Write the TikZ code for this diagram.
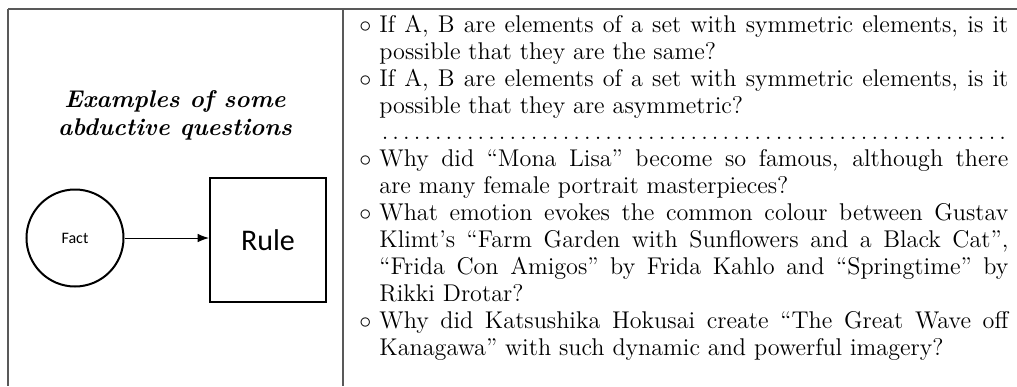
\documentclass[tikz,border=0pt]{standalone}
\usepackage{fontspec}
\newfontfamily\calibri{Carlito}
\usetikzlibrary{arrows.meta,positioning}
\tikzset{
    grid/.style={draw=black!65,line width=0.7pt},
    factdot/.style={circle,draw,line width=1pt,minimum size=48.5pt,inner sep=0pt,font=\calibri\fontsize{8}{9}\selectfont},
    rulebox/.style={draw,line width=1pt,minimum width=58pt,minimum height=62pt,inner sep=0pt,font=\calibri\fontsize{15}{17}\selectfont},
    arrow/.style={-{Latex[length=2mm]},line width=0.5pt}
}
\newlength{\qhang}
\setlength{\qhang}{10pt}
\newcommand{\qitem}[1]{\par\hangindent=\qhang\hangafter=1\noindent\makebox[\qhang][l]{$\circ$}#1}

\begin{document}
\begin{tikzpicture}[x=0.5pt,y=-0.5pt]
    \useasboundingbox (0,0) rectangle (1017,386);
    % table lines
    \draw[grid] (8,9) -- (1017,9);
    \draw[grid] (8,9) -- (8,386);
    \draw[grid] (343,9) -- (343,386);
    % left cell
    \node[font=\bfseries\itshape\fontsize{12.1}{14}\selectfont,align=center] (title) at (175,115) {Examples of some\\abductive questions};
    \node[factdot] (fact) at (75,238) {Fact};
    \node[rulebox] (rule) at (268,240) {Rule};
    \draw[arrow] (fact.east) -- (fact.east -| rule.west);
    % right cell
    \node[anchor=north west,inner sep=0pt,text width=324.5pt,align=justify,font=\fontsize{12.1}{13.45}\selectfont] (qs) at (359,5) {%
        \tolerance=9999\hyphenpenalty=10000
        \qitem{If A, B are elements of a set with symmetric elements, is it\linebreak possible that they are the same?}
        \qitem{If A, B are elements of a set with symmetric elements, is it\linebreak possible that they are asymmetric?}
        \par\noindent\hspace*{\qhang}\dotfill\null
        \qitem{Why did “Mona Lisa” become so famous, although there\linebreak are many female portrait masterpieces?}
        \qitem{What emotion evokes the common colour between Gustav\linebreak Klimt’s “Farm Garden with Sunflowers and a Black Cat”,\linebreak “Frida Con Amigos” by Frida Kahlo and “Springtime” by\linebreak Rikki Drotar?}
        \qitem{Why did Katsushika Hokusai create “The Great Wave off\linebreak Kanagawa” with such dynamic and powerful imagery?}\par
    };
\end{tikzpicture}
\end{document}
